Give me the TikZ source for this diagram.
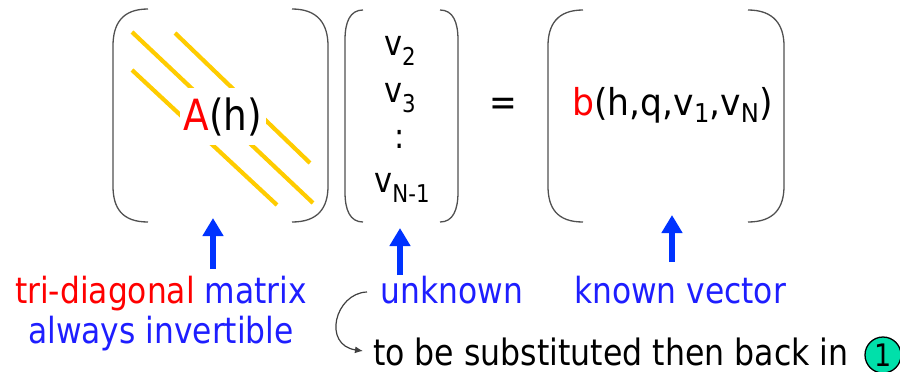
\documentclass[tikz,border=0pt]{standalone}
\usepackage{fontspec}
\setmainfont{DejaVu Sans}[FakeStretch=0.87]
\newfontfamily\bfam{DejaVu Sans}[FakeStretch=0.935]
\usetikzlibrary{arrows.meta}
\definecolor{txtblue}{RGB}{30,30,255}
\definecolor{arrblue}{RGB}{0,51,255}
\definecolor{diagyellow}{RGB}{255,204,0}
\definecolor{mint}{RGB}{0,224,170}
\definecolor{brgray}{RGB}{80,80,80}
\newcommand\fsz{35pt}
\newcommand\lowsub[2][0.55ex]{\raisebox{-#1}{\fontsize{0.7\dimexpr\fsz\relax}{1}\selectfont #2}}
\tikzset{
  paren/.style={draw=brgray, line width=1.3pt},
  diag/.style={draw=diagyellow, line width=4.2pt},
  uparrow/.style={draw=arrblue, line width=6.5pt, -{Triangle[length=18pt,width=20pt]}},
  lbl/.style={inner sep=0pt, anchor=base, font=\fontsize{36}{40}\selectfont},
  vec/.style={inner sep=0pt, anchor=base, font=\fontsize{35}{38}\selectfont},
}
\begin{document}
\begin{tikzpicture}[x=1pt,y=-1pt]
\useasboundingbox (0,0) rectangle (900,372);
% matrix parentheses
\draw[paren] (148,9) .. controls (122,9) and (113,24) .. (113,46) -- (113,186) .. controls (113,208) and (122,222) .. (148,222);
\draw[paren] (292,9) .. controls (318,9) and (328,24) .. (328,46) -- (328,186) .. controls (328,208) and (318,222) .. (292,222);
% diagonals
\draw[diag] (132,32) -- (313,203);
\draw[diag] (175,33) -- (310,163);
\draw[diag] (132,70) -- (277,205);
\node[fill=white, anchor=base, inner xsep=4pt, inner ysep=9pt, font=\fontsize{43}{44}\selectfont] (A) at (223,130) {\textcolor{red}{A}(h)};
% vector parentheses
\draw[paren] (363,10) .. controls (350,10) and (345,22) .. (345,40) -- (345,192) .. controls (345,210) and (350,222) .. (363,222);
\draw[paren] (440,10) .. controls (453,10) and (458,22) .. (458,40) -- (458,192) .. controls (458,210) and (453,222) .. (440,222);
\node[vec] (v2) at (400,55) {v\lowsub{2}};
\node[vec] (v3) at (400,102) {v\lowsub{3}};
\node[vec] (dots) at (400,148) {:};
\node[vec] (vN) at (402,192) {v\lowsub{N-1}};
% equals
\node[inner sep=0pt, font=\fontsize{38}{40}\selectfont] (eq) at (503,106.5) {=};
% b parentheses
\draw[paren] (583,10) .. controls (557,10) and (548,25) .. (548,46) -- (548,186) .. controls (548,208) and (557,222) .. (583,222);
\draw[paren] (748,10) .. controls (774,10) and (784,25) .. (784,46) -- (784,186) .. controls (784,208) and (774,222) .. (748,222);
\node[inner sep=0pt, anchor=base west, font=\bfam\fontsize{37}{40}\selectfont] (b) at (572,115) {\renewcommand\fsz{37pt}\textcolor{red}{b}(h,q,v\lowsub[0.36ex]{1},v\lowsub[0.36ex]{N})};
% arrows
\coordinate (a1s) at (213,269); \coordinate (a1e) at (213,218);
\coordinate (a2s) at (400,275); \coordinate (a2e) at (400,228);
\coordinate (a3s) at (672,262); \coordinate (a3e) at (672,215);
\draw[uparrow] (a1s) -- (a1e);
\draw[uparrow] (a2s) -- (a2e);
\draw[uparrow] (a3s) -- (a3e);
% labels
\node[lbl] (l1) at (161,303) {\textcolor{red}{tri-diagonal} \textcolor{txtblue}{matrix}};
\node[lbl] (l2) at (161,343) {\textcolor{txtblue}{always invertible}};
\node[lbl] (l3) at (452,303) {\textcolor{txtblue}{unknown}};
\node[lbl] (l4) at (680,303) {\textcolor{txtblue}{known vector}};
\node[lbl, anchor=base west, font=\fontsize{36.3}{40}\selectfont] (l5) at (373,365) {to be substituted then back in};
\node[circle, draw=black, line width=1.3pt, fill=mint, minimum size=36pt, inner sep=0pt, font=\fontsize{31}{34}\selectfont] (one) at (883,355) {1};
\coordinate (cs) at (367,292);
\coordinate (ce) at (363,351);
\draw[draw=black!75, line width=1.2pt, -{Latex[length=8pt,width=7pt]}] (cs) .. controls (335,293) and (322,345) .. (ce);
\end{tikzpicture}
\end{document}
